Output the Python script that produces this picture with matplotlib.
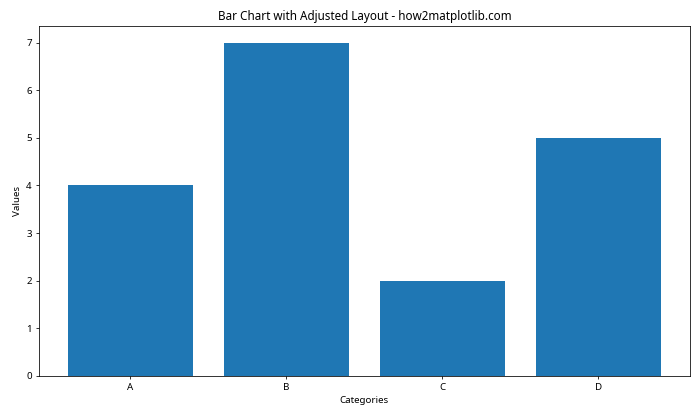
import matplotlib.pyplot as plt

plt.rcParams['font.family'] = ['Noto Sans', 'DejaVu Sans']

# Data
categories = ['A', 'B', 'C', 'D']
values = [4, 7, 2, 5]

fig, ax = plt.subplots(figsize=(10, 6), dpi=70)
ax.bar(categories, values, color='#1f77b4')
ax.set_title('Bar Chart with Adjusted Layout - how2matplotlib.com')
ax.set_xlabel('Categories')
ax.set_ylabel('Values')

fig.subplots_adjust(left=0.055, right=0.986, bottom=0.105, top=0.938)
plt.savefig('out.png')
